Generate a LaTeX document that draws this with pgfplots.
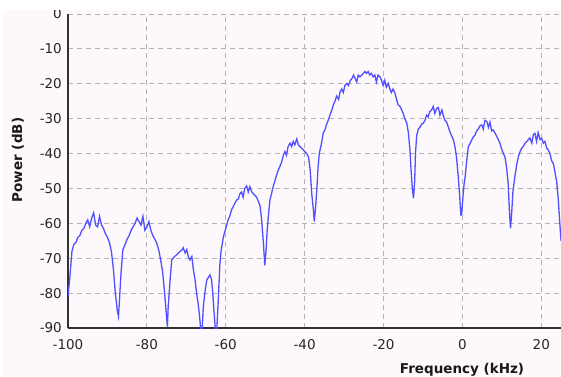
\documentclass[border=0pt]{standalone}
\usepackage{fontspec}
\setmainfont{DejaVu Sans}
\usepackage{pgfplots}
\pgfplotsset{compat=1.18}
\definecolor{bgpink}{RGB}{253,248,252}
\definecolor{specblue}{RGB}{80,80,255}
\definecolor{gridgray}{RGB}{180,180,180}
\definecolor{axisdark}{RGB}{50,50,50}
\begin{document}
\begin{tikzpicture}[x=1pt,y=1pt]
\fill[white] (0,0) rectangle (561,376);
\begin{scope}
\clip (3,0) rectangle (561,366);
\fill[bgpink] (3,0) rectangle (561,366);
\begin{axis}[
  at={(68pt,48pt)}, anchor=south west,
  scale only axis, width=493pt, height=314pt,
  xmin=-100, xmax=25, ymin=-90, ymax=0,
  xtick={-100,-80,...,20}, ytick={-90,-80,...,0},
  axis lines=left, axis line style={-, axisdark, line width=1.3pt},
  major tick length=0pt,
  grid=major, major grid style={gridgray, line width=0.9pt, dash pattern=on 5pt off 4pt},
  /pgf/number format/assume math mode=true,
  tick label style={font=\fontsize{13.5}{16}\selectfont, text=black!85},
  xticklabel style={anchor=center, yshift=-17pt},
  yticklabel style={anchor=east, inner sep=0pt, xshift=-6pt},
  clip=true,
]
\addplot[specblue, line width=1.3pt, mark=none] table {
-100.0 -81
-99.5 -75
-99.0 -68
-98.5 -66
-98.0 -65.5
-97.5 -64
-97.0 -63.5
-96.5 -62
-96.0 -61.5
-95.5 -60
-95.0 -59
-94.5 -61
-94.0 -58.5
-93.5 -57
-93.0 -60.5
-92.5 -61
-92.0 -58
-91.5 -60.5
-91.0 -61.5
-90.5 -63
-90.0 -64
-89.5 -65.5
-89.0 -68
-88.5 -73
-88.0 -80
-87.5 -85
-87.2 -86.7
-87.0 -83
-86.6 -75
-86.1 -67.6
-85.5 -66
-85.0 -64.5
-84.5 -63.5
-84.0 -62
-83.5 -61
-83.0 -60
-82.5 -58.5
-82.0 -59.5
-81.5 -60.5
-81.0 -58
-80.5 -62
-80.0 -61
-79.5 -59.5
-79.0 -62
-78.5 -63.5
-78.0 -64.5
-77.5 -65.7
-77.0 -67.6
-76.5 -70.5
-76.0 -74
-75.5 -80
-75.0 -87
-74.8 -89.6
-74.6 -84
-74.1 -76
-73.7 -70.5
-73.0 -69.5
-72.4 -69
-72.0 -68.5
-71.5 -68
-71.0 -67.5
-70.8 -67
-70.3 -68.5
-69.9 -67.5
-69.5 -69.5
-69.1 -70.5
-68.6 -69.5
-68.2 -73.4
-67.8 -76
-67.4 -80
-67.0 -83
-66.7 -86
-66.3 -91
-66.0 -91
-65.7 -84
-65.2 -79
-64.8 -76.2
-64.4 -75.5
-64.0 -74.8
-63.6 -76.2
-63.3 -80
-63.0 -85
-62.6 -91
-62.3 -91
-61.9 -82
-61.5 -72
-61.2 -68
-60.9 -66
-60.6 -63.8
-60.0 -61.5
-59.4 -59
-59.0 -58
-58.5 -56
-58.1 -55.2
-57.6 -54
-57.2 -53.3
-56.8 -53
-56.4 -51.5
-56.0 -51
-55.6 -52.5
-55.2 -50
-54.7 -49.3
-54.3 -51
-53.9 -49.5
-53.4 -51
-53.0 -51.5
-52.6 -52
-52.2 -52.5
-51.8 -53.5
-51.3 -55
-50.9 -59
-50.5 -65
-50.1 -72
-49.8 -68
-49.5 -62
-49.2 -58
-48.8 -53.3
-48.4 -51.5
-48.1 -50
-47.6 -48
-47.1 -46.1
-46.6 -44.5
-46.2 -43.5
-45.8 -42.3
-45.4 -40.5
-45.0 -39.4
-44.6 -40.5
-44.2 -38
-43.7 -37
-43.3 -38
-42.9 -36.5
-42.5 -37.5
-42.0 -35.8
-41.6 -37.5
-41.2 -38
-40.7 -38.5
-40.3 -39
-39.9 -39.5
-39.5 -40
-39.0 -41
-38.6 -44.7
-38.2 -51.5
-37.8 -56
-37.55 -59.5
-37.2 -55
-36.9 -50
-36.6 -44
-36.3 -40
-35.8 -37.5
-35.3 -34.2
-34.8 -33
-34.4 -31.5
-34.0 -30.4
-33.6 -29
-33.1 -27.5
-32.7 -26
-32.3 -25
-31.9 -23.5
-31.4 -24.5
-31.0 -22.3
-30.6 -21.5
-30.2 -22.5
-29.8 -20.5
-29.3 -19.9
-28.9 -20.5
-28.4 -19
-28.0 -18.5
-27.6 -17.5
-27.2 -18.5
-26.8 -19.5
-26.4 -17.5
-26.0 -18
-25.5 -17.5
-25.1 -17
-24.7 -16.5
-24.3 -17
-23.9 -16.5
-23.5 -17.5
-23.1 -17
-22.6 -18
-22.2 -17.5
-21.8 -19.5
-21.4 -17.5
-20.9 -18
-20.5 -19
-20.1 -20.5
-19.7 -19
-19.3 -21
-18.8 -19.9
-18.4 -21.5
-18.0 -22.5
-17.6 -21.5
-17.1 -22.7
-16.7 -24.5
-16.3 -26
-15.8 -26.5
-15.4 -27.5
-15.0 -28.5
-14.6 -30
-14.1 -31.3
-13.7 -34
-13.3 -39
-13.0 -45
-12.7 -50
-12.4 -52.8
-12.1 -48
-11.9 -40
-11.6 -35
-11.2 -33
-10.8 -32.5
-10.3 -31.5
-9.9 -31.3
-9.5 -30.5
-9.1 -29
-8.7 -29.5
-8.3 -28
-7.8 -27.5
-7.4 -26.5
-7.0 -28.5
-6.5 -27
-6.1 -26.8
-5.7 -29
-5.2 -27.5
-4.8 -29.3
-4.4 -30.5
-4.0 -31
-3.6 -32.3
-3.1 -34
-2.7 -35
-2.3 -36
-1.9 -38
-1.5 -41
-1.1 -46
-0.7 -52
-0.4 -57.6
-0.2 -57.6
0.1 -53
0.4 -49
0.7 -46.6
1.1 -42
1.5 -38
2.0 -37
2.4 -36
2.8 -35.2
3.2 -34.7
3.6 -33.5
4.0 -33
4.5 -32
4.9 -31.8
5.3 -33
5.7 -30.5
6.2 -30.8
6.6 -32.5
7.0 -31
7.4 -33.5
7.8 -33.2
8.2 -34
8.7 -35
9.1 -36
9.5 -37
9.9 -38.5
10.4 -40
10.8 -41
11.2 -44
11.6 -48.5
11.9 -56
12.2 -61.4
12.5 -57
12.8 -51
13.3 -46.6
13.8 -43
14.2 -40.9
14.6 -39.5
15.0 -38.5
15.4 -38
15.9 -37
16.3 -36.6
16.7 -36
17.1 -35.5
17.6 -37
18.0 -34.5
18.4 -34.2
18.8 -36.5
19.2 -34
19.7 -36
20.1 -35.6
20.5 -37
20.9 -36.5
21.4 -38.5
21.8 -39
22.2 -40
22.6 -42
23.1 -43
23.5 -45.6
23.9 -48
24.3 -53
24.7 -60
25.0 -65
};
\end{axis}
\node[font=\fontsize{13.5}{16}\selectfont\bfseries, text=black!90] at (462,6.5) {Frequency (kHz)};
\node[font=\fontsize{13.5}{16}\selectfont\bfseries, text=black!90, rotate=90] at (18,216) {Power (dB)};
\end{scope}
\pgfresetboundingbox
\path[use as bounding box] (0,0) rectangle (561,376);
\end{tikzpicture}
\end{document}
